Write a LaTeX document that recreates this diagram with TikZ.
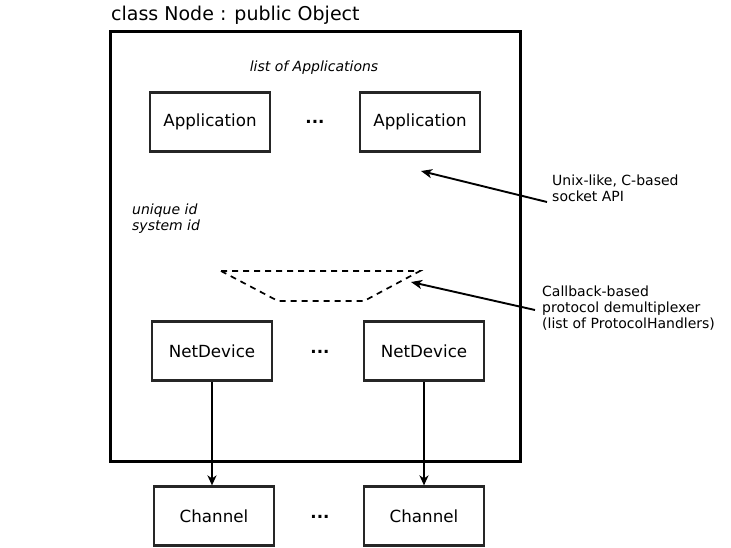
\documentclass[tikz,border=0pt]{standalone}
\usepackage{fontspec}
\setmainfont{DejaVu Sans}
\usetikzlibrary{arrows.meta}
\begin{document}
\begin{tikzpicture}[x=1pt,y=-1pt,
  box/.style={draw=black!85,line width=2.2pt,minimum width=120pt,minimum height=59pt,inner sep=0pt,font=\fontsize{16.7}{19}\selectfont},
  dots/.style={font=\fontsize{16.7}{19}\selectfont\bfseries},
  lbl/.style={font=\fontsize{14}{16}\selectfont,align=left,anchor=west,inner sep=0pt},
  ital/.style={font=\fontsize{14}{16}\selectfont\itshape,align=left,inner sep=0pt},
  arr/.style={-{Stealth[length=11pt,width=9pt,inset=3pt]},line width=1.9pt},
  darr/.style={-{Stealth[length=10pt,width=9pt,inset=3pt]},line width=2.2pt}]
\useasboundingbox (0,0) rectangle (731,547);
\node[anchor=base west,inner sep=0pt,font=\fontsize{19}{22}\selectfont] (title) at (111,20) {class Node : public Object};
\draw[line width=3pt] (110,31) rectangle (520,461);
\node[ital] (loa) at (314,67.5) {list of Applications};
\node[box] (app1) at (210,122) {Application};
\node[box] (app2) at (420,122) {Application};
\node[dots] (d1) at (315,121.5) {...};
\node[ital,anchor=west] (uid) at (132,219) {unique id\\system id};
\node[box] (nd1) at (212,351) {NetDevice};
\node[box] (nd2) at (424,351) {NetDevice};
\node[dots] (d2) at (320,351.5) {...};
\node[box] (ch1) at (214,516) {Channel};
\node[box] (ch2) at (424,516) {Channel};
\node[dots] (d3) at (320,516.5) {...};
\coordinate (t1) at (221,271);
\coordinate (t2) at (420,271);
\coordinate (b1) at (278,301);
\coordinate (b2) at (364,301);
\draw[line width=1.7pt,dash pattern=on 6pt off 5pt] (t1) -- (t2) -- (b2) -- (b1) -- cycle;
\node[lbl] (unix) at (552,188.5) {Unix-like, C-based\\socket API};
\coordinate (sock) at (421,171);
\coordinate (demux) at (411,282);
\node[lbl] (cb) at (542,308.5) {Callback-based\\protocol demultiplexer\\(list of ProtocolHandlers)};
\draw[arr] (547,202) -- (sock);
\draw[arr] (535,310) -- (demux);
\draw[darr] (nd1.south) -- (nd1.south |- ch1.north);
\draw[darr] (nd2.south) -- (nd2.south |- ch2.north);
\end{tikzpicture}
\end{document}
